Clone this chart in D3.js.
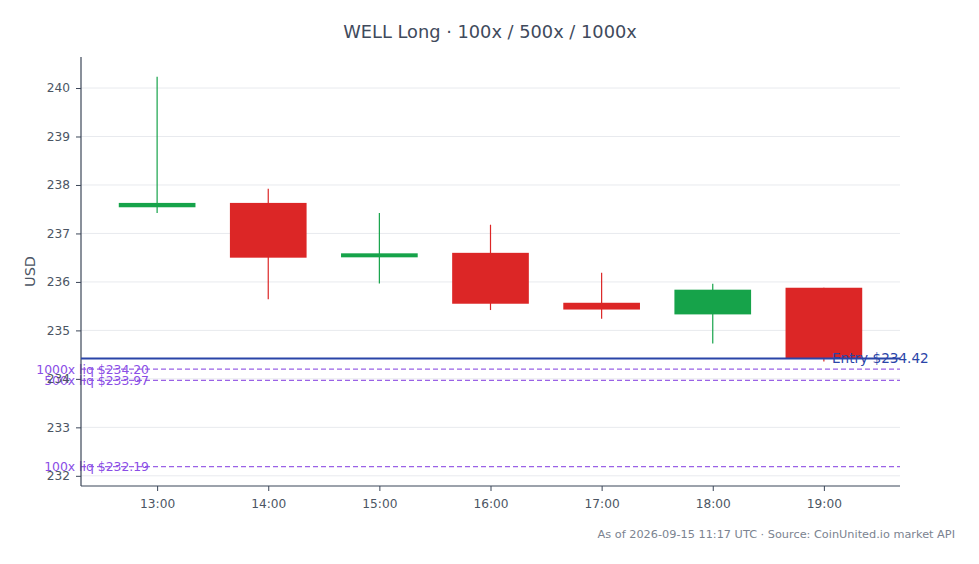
<!DOCTYPE html>
<html><head><meta charset="utf-8">
<script src="https://cdn.jsdelivr.net/npm/d3@7"></script>
<style>
html,body{margin:0;padding:0;background:#fff;}
svg{display:block;font-family:"DejaVu Sans",sans-serif;}
</style></head>
<body><svg id="chart" width="979" height="564"></svg>
<script>
const hours = ["13:00","14:00","15:00","16:00","17:00","18:00","19:00"];
const openV  = [237.54, 237.63, 236.51, 236.60, 235.57, 235.33, 235.88];
const highV  = [240.23, 237.92, 237.42, 237.18, 236.19, 235.96, 235.88];
const lowV   = [237.42, 235.64, 235.97, 235.42, 235.24, 234.73, 234.36];
const closeV = [237.63, 236.50, 236.59, 235.55, 235.43, 235.84, 234.43];
const yTicks = [232, 233, 234, 235, 236, 237, 238, 239, 240];
const entryPrice = 234.42;
const liqLabels = ["1000x liq $234.20", "500x liq $233.97", "100x liq $232.19"];
const liqPrices = [234.20, 233.97, 232.19];
const titleText = "WELL Long · 100x / 500x / 1000x";
const footerText = "As of 2026-09-15 11:17 UTC · Source: CoinUnited.io market API";

const svg = d3.select("#chart");
const L = 81, R = 900, T = 57, B = 486;
const base = new Date(Date.UTC(2026, 8, 15, 13, 0));
const times = hours.map((h, i) => new Date(base.getTime() + i * 3600e3));
const hr = 3600e3;
const x = d3.scaleUtc()
  .domain([new Date(times[0].getTime() - 0.685 * hr), new Date(times[6].getTime() + 0.685 * hr)])
  .range([L, R]);
const y = d3.scaleLinear().domain([231.79, 240.64]).range([B, T]);

// gridlines
svg.append("g").selectAll("line").data(yTicks).join("line")
  .attr("x1", L).attr("x2", R)
  .attr("y1", d => y(d)).attr("y2", d => y(d))
  .attr("stroke", "#e8eaee").attr("stroke-width", 1);

// candles
const data = hours.map((h, i) => ({t: times[i], o: openV[i], h: highV[i], l: lowV[i], c: closeV[i]}));
const bw = x(new Date(times[0].getTime() + 0.69 * hr)) - x(times[0]);
const col = d => d.c >= d.o ? "#16a34a" : "#dc2626";
const cg = svg.append("g");
cg.selectAll("line").data(data).join("line")
  .attr("x1", d => x(d.t)).attr("x2", d => x(d.t))
  .attr("y1", d => y(d.h)).attr("y2", d => y(d.l))
  .attr("stroke", col).attr("stroke-width", 1.2);
cg.selectAll("rect").data(data).join("rect")
  .attr("x", d => x(d.t) - bw / 2).attr("width", bw)
  .attr("y", d => y(Math.max(d.o, d.c)))
  .attr("height", d => Math.max(4, y(Math.min(d.o, d.c)) - y(Math.max(d.o, d.c))))
  .attr("fill", col);

// liquidation lines
const lg = svg.append("g");
lg.selectAll("line").data(liqPrices).join("line")
  .attr("x1", L).attr("x2", R)
  .attr("y1", d => y(d)).attr("y2", d => y(d))
  .attr("stroke", "#9a62e6").attr("stroke-width", 1.3).attr("stroke-dasharray", "5,3");

// axes
const yAxis = svg.append("g").attr("transform", `translate(${L},0)`)
  .call(d3.axisLeft(y).tickValues(yTicks).tickFormat(d3.format("d")).tickSize(5).tickPadding(6));
const xAxis = svg.append("g").attr("transform", `translate(0,${B})`)
  .call(d3.axisBottom(x).tickValues(times).tickFormat((d, i) => hours[i]).tickSize(5).tickPadding(8));
[yAxis, xAxis].forEach(a => {
  a.select(".domain").attr("stroke", "#3b4658").attr("stroke-width", 1.2);
  a.selectAll(".tick line").attr("stroke", "#3b4658");
  a.selectAll(".tick text").attr("fill", "#4b5563").attr("font-size", 12.2)
    .attr("font-family", "DejaVu Sans, sans-serif");
});
yAxis.select(".domain").attr("d", `M-0,${T}V${B}`);
xAxis.select(".domain").attr("d", `M${L},0H${R}`);

// liq labels
lg.selectAll("text").data(liqPrices).join("text")
  .attr("x", 149).attr("y", d => y(d)).attr("dy", "0.35em")
  .attr("text-anchor", "end").attr("font-size", 12.4)
  .attr("fill", "#8a4ee6")
  .text((d, i) => liqLabels[i]);

// entry line
svg.append("line").attr("x1", L).attr("x2", R)
  .attr("y1", y(entryPrice)).attr("y2", y(entryPrice))
  .attr("stroke", "#2a45a8").attr("stroke-width", 2);
svg.append("text").attr("x", 832).attr("y", y(entryPrice)).attr("dy", "0.35em")
  .attr("font-size", 13.6).attr("fill", "#2a45a8")
  .text("Entry $" + entryPrice.toFixed(2));

// title, y label, footer
svg.append("text").attr("x", 490).attr("y", 38).attr("text-anchor", "middle")
  .attr("font-size", 17.8).attr("fill", "#3f4a5c").text(titleText);
svg.append("text").attr("transform", `translate(35,${(T + B) / 2}) rotate(-90)`)
  .attr("text-anchor", "middle").attr("font-size", 14.5).attr("fill", "#4b5563").text("USD");
svg.append("text").attr("x", 955).attr("y", 538).attr("text-anchor", "end")
  .attr("font-size", 11.3).attr("fill", "#7b8390").text(footerText);
</script></body></html>
